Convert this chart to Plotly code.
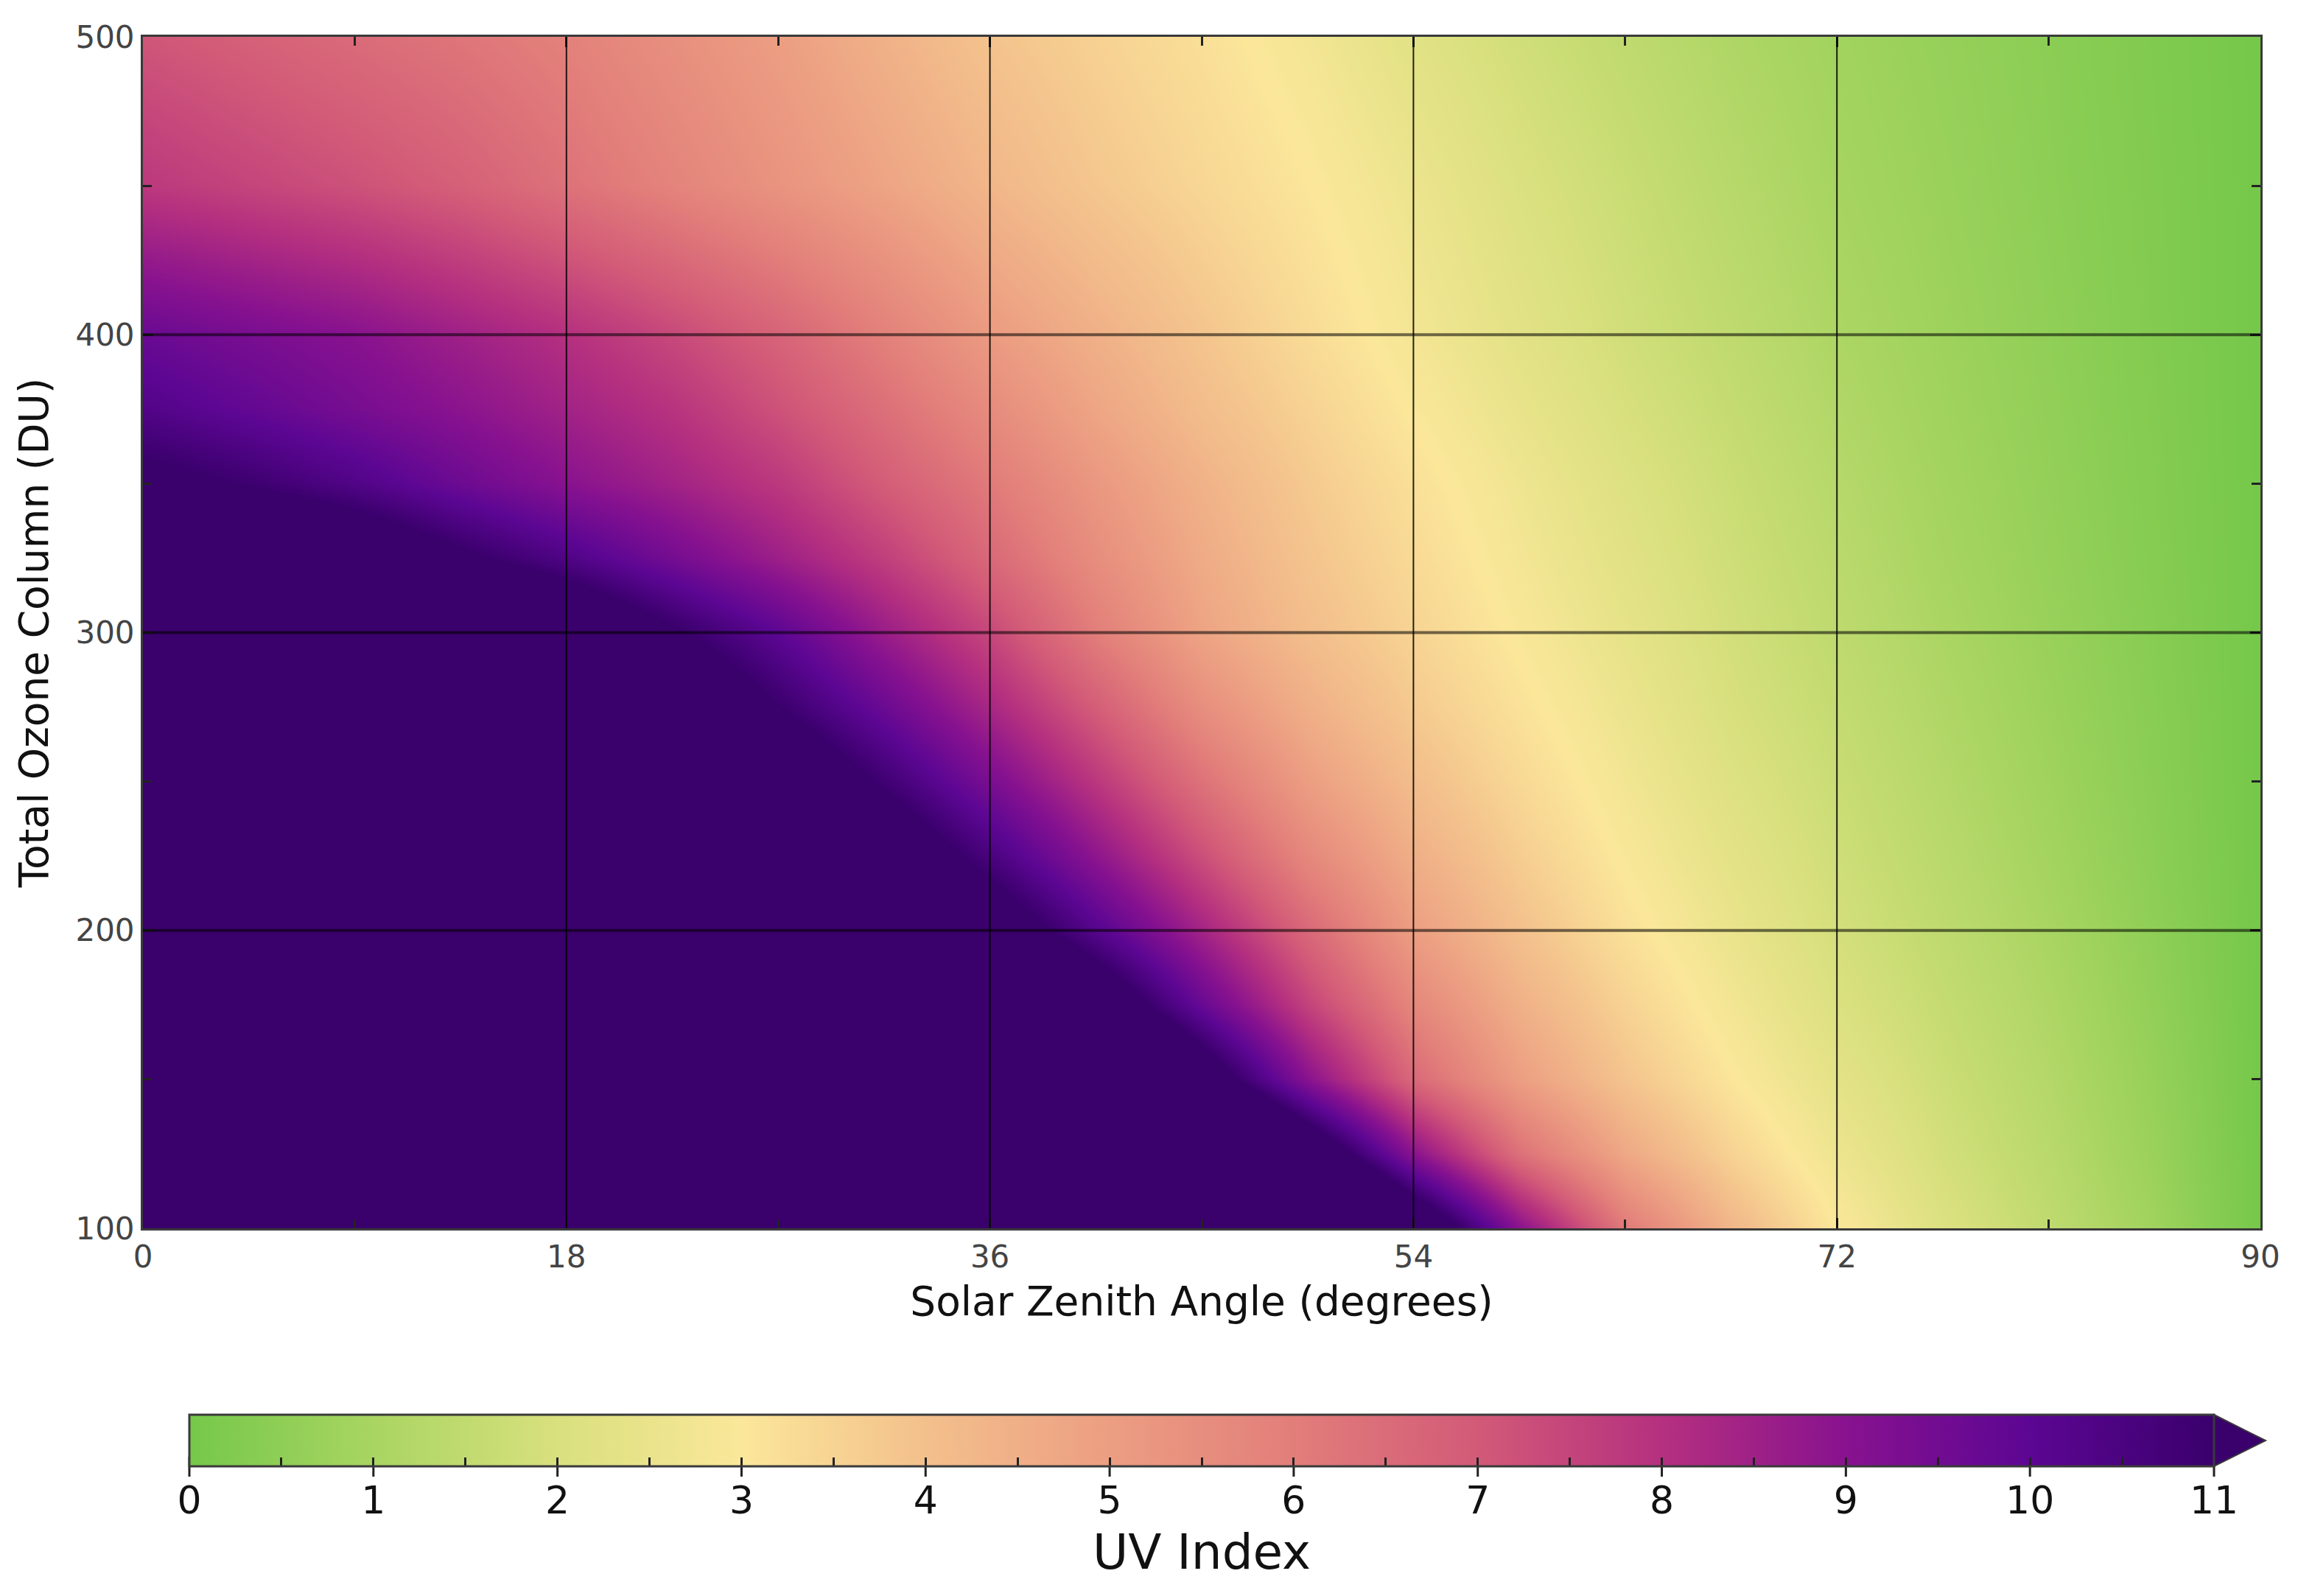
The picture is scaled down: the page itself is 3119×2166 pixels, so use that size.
import plotly.graph_objects as go

# ---- data ----
zenith_angle = [0, 4.5, 9, 13.5, 18, 22.5, 27, 31.5, 36, 40.5, 45,
                49.5, 54, 58.5, 63, 67.5, 72, 76.5, 81, 85.5, 90]          # degrees
ozone_column = [100, 125, 150, 175, 200, 225, 250, 275, 300, 325, 350, 375,
                400, 450, 500]                                            # DU

# UV index per ozone row (values above 11 are saturated in the picture and estimated)
uv_100 = [55.8, 52.2, 48.6, 45.0, 41.4, 37.8, 34.2, 30.6, 27.0, 23.4, 19.8,
          16.2, 12.6, 9.0, 6.1, 4.3, 3.0, 2.1, 1.47, 0.82, 0.0]
uv_125 = [48.9, 45.6, 42.3, 39.0, 35.7, 32.4, 29.1, 25.8, 22.5, 19.2, 15.6,
          12.4, 9.0, 6.38, 4.71, 3.53, 2.61, 1.88, 1.33, 0.71, 0.0]
uv_150 = [42.0, 39.0, 36.0, 33.0, 30.0, 27.0, 24.0, 21.0, 18.0, 15.0, 12.0,
          9.0, 6.6, 5.0, 3.9, 3.04, 2.32, 1.72, 1.22, 0.64, 0.0]
uv_175 = [34.2, 31.8, 29.4, 27.0, 24.6, 22.2, 19.8, 17.4, 15.0, 12.2, 9.75,
          7.55, 5.73, 4.47, 3.53, 2.75, 2.07, 1.58, 1.11, 0.56, 0.0]
uv_200 = [26.4, 24.6, 22.8, 21.0, 19.2, 17.4, 15.6, 13.8, 12.0, 10.2, 8.4,
          6.6, 5.0, 4.0, 3.18, 2.5, 1.9, 1.45, 1.0, 0.5, 0.0]
uv_225 = [23.85, 22.2, 20.55, 18.9, 17.25, 15.6, 13.97, 12.2, 10.54, 8.89, 7.26,
          5.69, 4.52, 3.67, 2.93, 2.31, 1.78, 1.34, 0.9, 0.45, 0.0]
uv_250 = [21.3, 19.8, 18.3, 16.8, 15.3, 13.8, 12.33, 10.83, 9.33, 7.83, 6.33,
          5.0, 4.1, 3.38, 2.73, 2.13, 1.67, 1.24, 0.82, 0.41, 0.0]
uv_275 = [19.6, 18.18, 16.75, 15.33, 13.9, 12.4, 11.0, 9.67, 8.29, 6.9, 5.49,
          4.49, 3.75, 3.14, 2.55, 1.97, 1.56, 1.14, 0.75, 0.38, 0.0]
uv_300 = [17.9, 16.55, 15.2, 13.85, 12.5, 11.15, 10.0, 8.63, 7.43, 6.0, 4.83,
          4.08, 3.5, 2.94, 2.38, 1.86, 1.45, 1.05, 0.69, 0.35, 0.0]
uv_325 = [14.0, 13.0, 12.2, 11.18, 10.36, 9.44, 8.55, 7.64, 6.58, 5.52, 4.62,
          3.9, 3.34, 2.78, 2.24, 1.77, 1.36, 0.96, 0.64, 0.32, 0.0]
uv_350 = [11.35, 10.9, 10.33, 9.64, 9.0, 8.44, 7.8, 6.91, 6.09, 5.2, 4.42,
          3.75, 3.19, 2.65, 2.12, 1.68, 1.27, 0.9, 0.6, 0.3, 0.0]
uv_375 = [10.3, 9.85, 9.4, 8.94, 8.44, 7.92, 7.19, 6.4, 5.57, 4.78, 4.1,
          3.53, 2.97, 2.45, 1.96, 1.57, 1.17, 0.84, 0.56, 0.28, 0.0]
uv_400 = [9.7, 9.35, 9.0, 8.5, 8.0, 7.4, 6.73, 5.91, 5.09, 4.47, 3.88,
          3.31, 2.78, 2.28, 1.83, 1.46, 1.08, 0.79, 0.53, 0.26, 0.0]
uv_450 = [7.8, 7.5, 7.2, 6.83, 6.33, 5.83, 5.33, 4.82, 4.29, 3.83, 3.43,
          3.04, 2.56, 2.06, 1.67, 1.29, 0.95, 0.71, 0.47, 0.24, 0.0]
uv_500 = [7.1, 6.81, 6.52, 6.23, 5.9, 5.45, 5.0, 4.44, 3.92, 3.56, 3.2,
          2.76, 2.24, 1.81, 1.46, 1.12, 0.86, 0.64, 0.43, 0.21, 0.0]
uv_grid = [uv_100, uv_125, uv_150, uv_175, uv_200, uv_225, uv_250, uv_275,
           uv_300, uv_325, uv_350, uv_375, uv_400, uv_450, uv_500]

x_ticks = [0, 18, 36, 54, 72, 90]
y_ticks = [100, 200, 300, 400, 500]
cb_major = [0, 1, 2, 3, 4, 5, 6, 7, 8, 9, 10, 11]
cb_minor = [0.5, 1.5, 2.5, 3.5, 4.5, 5.5, 6.5, 7.5, 8.5, 9.5, 10.5]

UV_MIN, UV_MAX = 0, 11
scale_colors = ["#75c84a", "#a9d562", "#d9e07e", "#fbe79a", "#f3c08c", "#ec9e82",
                "#e27e7a", "#d25a78", "#b5307f", "#88128f", "#5c0693", "#3a006c"]
colorscale = [[i / (len(scale_colors) - 1), c] for i, c in enumerate(scale_colors)]

# ---- layout geometry (pixels) ----
W, H = 3119, 2166
ML, MR, MT, MB = 186, 59, 42, 507
PW, PH = W - ML - MR, H - MT - MB
CB_LEFT, CB_RIGHT, CB_TOP, CB_THICK, ARROW = 249, 2997, 1912, 70, 70
FONT = "DejaVu Sans"


def px_to_paper_x(px):
    return (px - ML) / PW


def py_to_paper_y(py):
    return (H - MB - py) / PH


cb_vals = sorted(cb_major + cb_minor)
cb_text = [str(int(v)) if v in cb_major else "" for v in cb_vals]

fig = go.Figure()
fig.add_trace(go.Heatmap(
    x=zenith_angle, y=ozone_column, z=uv_grid,
    zmin=UV_MIN, zmax=UV_MAX, zsmooth="best",
    colorscale=colorscale,
    colorbar=dict(
        orientation="h",
        x=px_to_paper_x((CB_LEFT + CB_RIGHT) / 2), xanchor="center",
        y=py_to_paper_y(CB_TOP), yanchor="top",
        lenmode="pixels", len=CB_RIGHT - CB_LEFT,
        thicknessmode="pixels", thickness=CB_THICK,
        xpad=0, ypad=0,
        outlinecolor="#3a3a3a", outlinewidth=3,
        tickmode="array", tickvals=cb_vals, ticktext=cb_text,
        ticks="inside", ticklen=13, tickwidth=3, tickcolor="#222",
        tickfont=dict(family=FONT, size=52, color="#111"),
        title=dict(text="UV Index", side="bottom",
                   font=dict(family=FONT, size=66, color="#111")),
    ),
))

# grid lines drawn above the heatmap, at the tick positions
for xv in x_ticks[1:-1]:
    fig.add_shape(type="line", xref="x", yref="paper", x0=xv, x1=xv, y0=0, y1=1,
                  line=dict(color="rgba(0,0,0,0.85)", width=2), layer="above")
for yv in y_ticks[1:-1]:
    fig.add_shape(type="line", xref="paper", yref="y", x0=0, x1=1, y0=yv, y1=yv,
                  line=dict(color="rgba(0,0,0,0.55)", width=4), layer="above")

# major colorbar ticks also stick out below the bar
for v in cb_major:
    tx = px_to_paper_x(CB_LEFT + (CB_RIGHT - CB_LEFT) * (v - UV_MIN) / (UV_MAX - UV_MIN))
    fig.add_shape(type="line", xref="paper", yref="paper", x0=tx, x1=tx,
                  y0=py_to_paper_y(CB_TOP + CB_THICK - 13),
                  y1=py_to_paper_y(CB_TOP + CB_THICK + 14),
                  line=dict(color="#222", width=3), layer="above")

# colorbar extension arrow (values above 11)
ax0 = px_to_paper_x(CB_RIGHT)
ax1 = px_to_paper_x(CB_RIGHT + ARROW)
ay_top = py_to_paper_y(CB_TOP)
ay_bot = py_to_paper_y(CB_TOP + CB_THICK)
ay_mid = (ay_top + ay_bot) / 2
fig.add_shape(type="path", xref="paper", yref="paper",
              path=f"M {ax0},{ay_top} L {ax1},{ay_mid} L {ax0},{ay_bot} Z",
              fillcolor=scale_colors[-1], line=dict(color="#3a3a3a", width=2),
              layer="above")

axis_common = dict(
    showline=True, linecolor="#3a3a3a", linewidth=3, mirror="ticks",
    ticks="inside", ticklen=14, tickwidth=3, tickcolor="#222",
    showgrid=False, zeroline=False,
    tickfont=dict(family=FONT, size=42, color="#444"),
    layer="above traces",
)

fig.update_layout(
    width=W, height=H,
    margin=dict(l=ML, r=MR, t=MT, b=MB, pad=0),
    paper_bgcolor="white", plot_bgcolor="white",
    font=dict(family=FONT),
    xaxis=dict(
        axis_common, range=[0, 90], tickmode="array", tickvals=x_ticks,
        minor=dict(ticks="inside", dtick=9, tick0=0, ticklen=12, tickwidth=3,
                   tickcolor="#222", showgrid=False),
        title=dict(text="Solar Zenith Angle (degrees)", standoff=18,
                   font=dict(family=FONT, size=55, color="#111")),
    ),
    yaxis=dict(
        axis_common, range=[100, 500], tickmode="array", tickvals=y_ticks,
        minor=dict(ticks="inside", dtick=50, tick0=100, ticklen=12, tickwidth=3,
                   tickcolor="#222", showgrid=False),
        title=dict(text="Total Ozone Column (DU)", standoff=20,
                   font=dict(family=FONT, size=55, color="#111")),
    ),
)

fig.write_html("out.html")
